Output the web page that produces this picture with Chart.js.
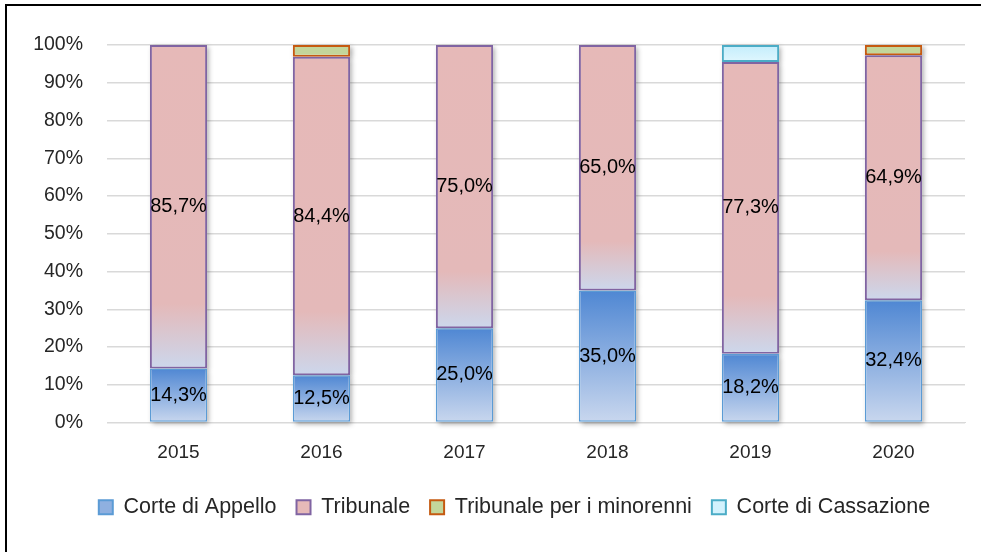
<!DOCTYPE html>
<html lang="it">
<head>
<meta charset="utf-8">
<title>Distribuzione per ufficio giudiziario</title>
<script src="https://cdn.jsdelivr.net/npm/chart.js@4/dist/chart.umd.min.js"></script>
<style>
  html, body { margin: 0; padding: 0; background: #fff; }
  #chart { display: block; }
</style>
</head>
<body>
<canvas id="chart" width="981" height="552"></canvas>
<script>
// anni e quote percentuali per ufficio
const anni = ['2015', '2016', '2017', '2018', '2019', '2020'];
const corteAppello = [14.3, 12.5, 25.0, 35.0, 18.2, 32.4];
const tribunale = [85.7, 84.4, 75.0, 65.0, 77.3, 64.9];
const tribMinorenni = [0, 3.1, 0, 0, 0, 2.7];
const corteCassazione = [0, 0, 0, 0, 4.5, 0];
const serie = [corteAppello, tribunale, tribMinorenni, corteCassazione];
const nomiSerie = ['Corte di Appello', 'Tribunale', 'Tribunale per i minorenni', 'Corte di Cassazione'];
const tickY = [0, 10, 20, 30, 40, 50, 60, 70, 80, 90, 100];

const FONT = '"Liberation Sans", Arial, sans-serif';

// sfumatura verticale calcolata sul singolo segmento della pila
function sfumatura(stops) {
  return function (c) {
    const chart = c.chart;
    if (!chart.chartArea || c.type !== 'data') return stops[0][1];
    const i = c.dataIndex, d = c.datasetIndex;
    let base = 0;
    for (let k = 0; k < d; k++) base += serie[k][i] || 0;
    const y = chart.scales.y;
    const top = y.getPixelForValue(base + (serie[d][i] || 0));
    const bot = y.getPixelForValue(base);
    if (!(bot - top > 0)) return stops[0][1];
    const g = chart.ctx.createLinearGradient(0, top, 0, bot);
    stops.forEach(s => g.addColorStop(s[0], s[1]));
    return g;
  };
}

const stili = [
  { fill: sfumatura([[0, '#4f87d3'], [1, '#c9d7ee']]), border: '#5b9bd5', width: 1.5, legend: '#8fb0e0' },
  { fill: sfumatura([[0, '#e6b9b8'], [0.8, '#e4b9b9'], [1, '#ccd7ec']]), border: '#8064a2', width: 2, legend: '#e6b9b8' },
  { fill: '#c3d69b', border: '#c55a11', width: 2, legend: '#c3d69b' },
  { fill: sfumatura([[0, '#c3edfc'], [1, '#e0f7fe']]), border: '#4bacc6', width: 2, legend: '#d3f2fd' }
];

const datasets = serie.map((valori, k) => ({
  label: nomiSerie[k],
  data: valori.map(v => (v > 0 ? v : null)),
  backgroundColor: stili[k].fill,
  borderColor: stili[k].border,
  borderWidth: stili[k].width,
  borderSkipped: false,
  barPercentage: 0.4,
  categoryPercentage: 1.0
}));

const fmt = v => v.toFixed(1).replace('.', ',') + '%';

// cornice, ombre delle barre ed etichette dei valori
const decorazioni = {
  id: 'decorazioni',
  afterLayout(chart) {
    // legenda leggermente spostata a destra
    chart.legend.left += 32;
    chart.legend.right += 32;
  },
  beforeDraw(chart) {
    const ctx = chart.ctx;
    ctx.save();
    ctx.strokeStyle = '#000';
    ctx.lineWidth = 2;
    ctx.beginPath();
    ctx.moveTo(6, 552);
    ctx.lineTo(6, 5);
    ctx.lineTo(981, 5);
    ctx.stroke();
    ctx.restore();
  },
  beforeDatasetsDraw(chart) {
    const ctx = chart.ctx;
    ctx.save();
    ctx.shadowColor = 'rgba(0,0,0,0.35)';
    ctx.shadowBlur = 5;
    ctx.shadowOffsetX = 2;
    ctx.shadowOffsetY = 2;
    ctx.fillStyle = '#fff';
    chart.data.datasets.forEach((ds, d) => {
      chart.getDatasetMeta(d).data.forEach(el => {
        const p = el.getProps(['x', 'y', 'base', 'width'], true);
        if (isNaN(p.y) || isNaN(p.base)) return;
        ctx.fillRect(p.x - p.width / 2, Math.min(p.y, p.base), p.width, Math.abs(p.base - p.y));
      });
    });
    ctx.restore();
  },
  afterDatasetsDraw(chart) {
    const ctx = chart.ctx;
    ctx.save();
    ctx.font = '20px ' + FONT;
    ctx.fillStyle = '#000';
    ctx.textAlign = 'center';
    ctx.textBaseline = 'middle';
    [0, 1].forEach(d => {
      chart.getDatasetMeta(d).data.forEach((el, i) => {
        const v = serie[d][i];
        if (!v) return;
        const p = el.getProps(['x', 'y', 'base'], true);
        ctx.fillText(fmt(v), p.x, (p.y + p.base) / 2);
      });
    });
    ctx.restore();
  }
};

const ctx = document.getElementById('chart').getContext('2d');
const chart = new Chart(ctx, {
  type: 'bar',
  data: { labels: anni, datasets: datasets },
  plugins: [decorazioni],
  options: {
    responsive: false,
    animation: false,
    layout: { padding: { top: 45, left: 0, right: 16, bottom: 24 } },
    scales: {
      x: {
        stacked: true,
        grid: { display: false },
        border: { color: '#d9d9d9', width: 1 },
        ticks: { color: '#262626', font: { family: FONT, size: 19 }, padding: 11 },
        afterFit(s) { s.height = 54; }
      },
      y: {
        stacked: true,
        min: 0,
        max: 100,
        afterBuildTicks(s) { s.ticks = tickY.map(v => ({ value: v })); },
        grid: { color: '#d9d9d9', lineWidth: 1.5, drawTicks: false },
        border: { display: false },
        ticks: {
          color: '#262626',
          font: { family: FONT, size: 19.5 },
          padding: 24,
          callback: v => v + '%'
        },
        afterFit(s) { s.width = 107; }
      }
    },
    plugins: {
      tooltip: { enabled: false },
      legend: {
        position: 'bottom',
        labels: {
          color: '#262626',
          font: { family: FONT, size: 21.5 },
          boxWidth: 14,
          boxHeight: 14,
          padding: 20,
          generateLabels(ch) {
            return ch.data.datasets.map((ds, k) => ({
              text: ds.label,
              fillStyle: stili[k].legend,
              strokeStyle: stili[k].border,
              lineWidth: 2,
              fontColor: '#262626',
              datasetIndex: k,
              hidden: false
            }));
          }
        }
      }
    }
  }
});
</script>
</body>
</html>
